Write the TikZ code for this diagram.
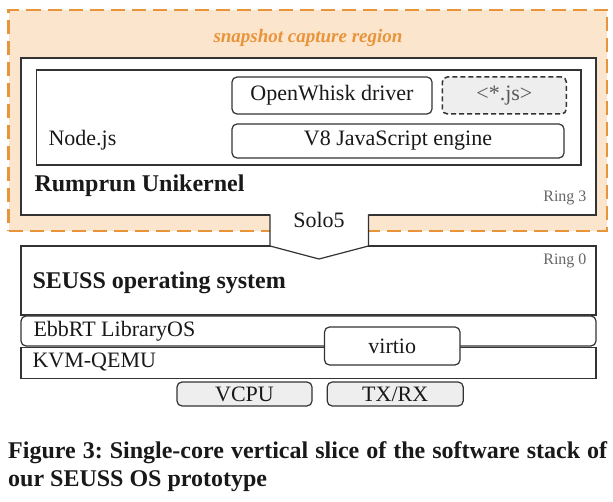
\documentclass[tikz,border=0pt]{standalone}
\usepackage{fontspec}
\setmainfont{Liberation Serif}
\usepackage{xcolor}
\usetikzlibrary{positioning, calc}
\frenchspacing
\definecolor{snaporange}{HTML}{E8943A}
\definecolor{snapfill}{HTML}{FCE5CD}
\definecolor{boxline}{HTML}{333333}
\definecolor{chipfill}{HTML}{EEEEEE}
\definecolor{ringgray}{HTML}{666666}
\tikzset{layer/.style={
          draw=boxline,
          line width=1.2pt,
          rectangle,
          fill=white,
          inner sep=0pt
     }}
\tikzset{module/.style={ % rounded box inside a layer
        layer,
        rounded corners=5pt
    }}
\tikzset{chip/.style={
        module,
        fill=chipfill
    }}
\tikzset{region/.style={
        draw=snaporange,
        fill=snapfill,
        line width=2.5pt,
        dash pattern=on 14pt off 7pt,
        inner sep=0pt
    }}
\tikzstyle{ringlabel} = [anchor=base east, text=ringgray, font=\fontsize{16}{18}\selectfont]
\tikzstyle{title} = [anchor=base west, font=\fontsize{24}{28}\selectfont\bfseries]
\tikzstyle{caption} = [anchor=base west, inner sep=0pt, font=\fontsize{24}{28}\selectfont\bfseries]

\begin{document}
\begin{tikzpicture}[x=1pt, y=-1pt, font=\fontsize{22}{24}\selectfont, text=black!90]
\useasboundingbox (0,0) rectangle (613,502);

\node (capture) [region, minimum width=598.5, minimum height=221] at (307.75,120.5) {};
\node (snaplabel) [anchor=base, text=snaporange, font=\fontsize{19}{22}\selectfont\bfseries\itshape] at (308,43) {snapshot capture region};

\node (rumprun) [layer, minimum width=575, minimum height=157] at (308.5,136.5) {};
\node (nodejs) [layer, minimum width=544.5, minimum height=95] at (308.75,117.5) {};
\node (owdriver) [module, minimum width=200, minimum height=37] at (332,95.5) {OpenWhisk driver};
\node (userjs) [chip, dash pattern=on 5pt off 3pt, line width=1.5pt, minimum width=124, minimum height=37, right=9 of owdriver, text=black!65] {<*.js>};
\node (veight) [module, minimum width=332, minimum height=34] at (398,141) {V8 JavaScript engine};
\node (nodejslabel) [anchor=base west] at (45,146) {Node.js};
\node (rumprunlabel) [title] at (31,192) {Rumprun Unikernel};
\node (ring3) [ringlabel] at (590,202) {Ring 3};

\node (seuss) [layer, minimum width=575, minimum height=69] at (308.5,280.5) {};
\node (seusslabel) [title] at (29,289) {SEUSS operating system};
\node (ring0) [ringlabel] at (590,265) {Ring 0};

% Solo5 interface between the unikernel and the OS
\fill [white] (270,214.2) -- (270,246) -- (319,259) -- (368.5,246) -- (368.5,214.2) -- cycle;
\draw [boxline, line width=1.2pt, line join=round] (270,214.4) -- (270,246) -- (319,259) -- (368.5,246) -- (368.5,214.4);
\node (solo5) [anchor=base] at (319,228) {Solo5};

\node (ebbrt) [module, minimum width=575, minimum height=30] at (308.5,331) {};
\node (kvm) [layer, minimum width=575, minimum height=31, below=0 of ebbrt] {};
\node (ebbrtlabel) [anchor=base west] at (30,337) {EbbRT LibraryOS};
\node (kvmlabel) [anchor=base west] at (29,368) {KVM-QEMU};
\node (virtio) [module, minimum width=135.5, minimum height=38] at (392.25,346) {virtio};

\node (vcpu) [chip, minimum width=135, minimum height=24] at (244.5,394) {VCPU};
\node (txrx) [chip, minimum width=136, minimum height=24, right=14 of vcpu] {TX/RX};

\node (caption1) [caption] at (8,458) {\makebox[599pt][s]{Figure 3: Single-core vertical slice of the software stack of}};
\node (caption2) [caption] at (8,486) {our SEUSS OS prototype};
\end{tikzpicture}
\end{document}
